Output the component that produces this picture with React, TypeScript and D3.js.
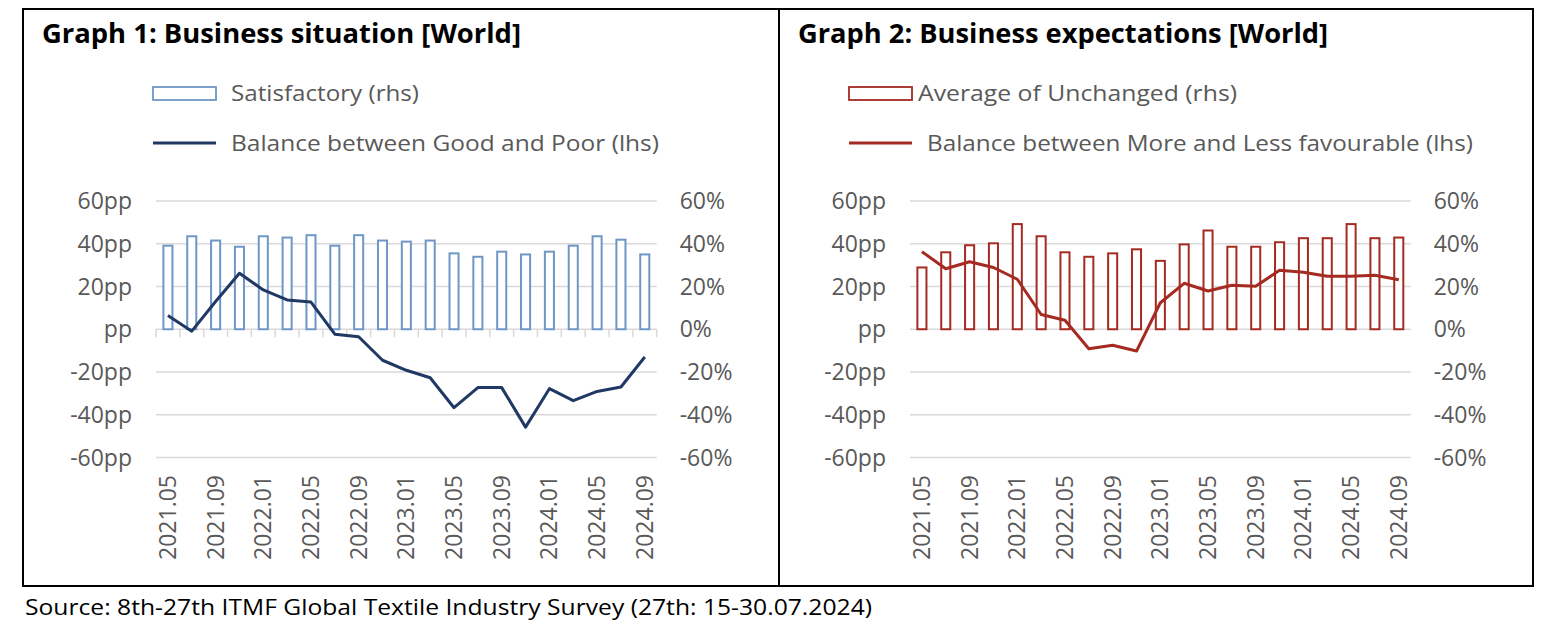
import React from 'react';
import * as d3 from 'd3';

const categories = ['2021.05','2021.07','2021.09','2021.11','2022.01','2022.03','2022.05','2022.07','2022.09','2022.11','2023.01','2023.03','2023.05','2023.07','2023.09','2023.11','2024.01','2024.03','2024.05','2024.07','2024.09'];
const satisfactory = [39.1,43.5,41.5,38.6,43.5,42.9,44.0,39.1,44.0,41.5,41.0,41.5,35.5,33.9,36.3,35.0,36.3,39.1,43.5,41.9,35.0];
const balanceGoodPoor = [6.4,-0.9,13,26.2,18.4,13.7,12.7,-2.3,-3.5,-14.5,-19.2,-22.7,-36.7,-27.3,-27.3,-45.8,-27.8,-33.4,-29.1,-27.0,-13.0];
const unchanged = [28.9,36.0,39.3,40.2,49.2,43.5,36.0,33.9,35.5,37.4,32.0,39.7,46.2,38.6,38.6,40.7,42.6,42.6,49.2,42.6,42.9];
const balanceMoreLess = [36.3,28.3,31.6,28.9,23.4,6.9,4.2,-9.1,-7.5,-10.2,12.4,21.5,17.9,20.6,20.1,27.6,26.7,24.8,24.8,25.3,23.2];
const yTicks = [-60,-40,-20,0,20,40,60];
const leftTickLabels = ['-60pp','-40pp','-20pp','pp','20pp','40pp','60pp'];
const rightTickLabels = ['-60%','-40%','-20%','0%','20%','40%','60%'];

const FONT = '"Open Sans", "Noto Sans", sans-serif';
const GRAY = '#595959';

type PanelProps = {
  x0: number; x1: number; title: string; titleLen: number; titleX: number;
  barLabel: string; barLabelX: number; barLabelLen: number;
  lineLabel: string; lineLabelX: number; lineLabelLen: number;
  legendX: number;
  bars: number[]; line: number[]; barColor: string; lineColor: string;
  ticks: boolean;
};

function Panel(p: PanelProps) {
  const x = d3.scaleBand<string>().domain(categories).range([p.x0, p.x1]).paddingInner(0.62).paddingOuter(0.31);
  const y = d3.scaleLinear().domain([-60, 60]).range([457.5, 201]);
  const step = x.step();
  const cx = (c: string) => (x(c) as number) + x.bandwidth() / 2;
  const lineGen = d3.line<number>().x((_, i) => cx(categories[i])).y(d => y(d));
  return (
    <g>
      <text x={p.titleX} y={43} fontFamily={FONT} fontWeight="bold" fontSize={26} fill="#000" textLength={p.titleLen} lengthAdjust="spacingAndGlyphs">{p.title}</text>
      <rect x={p.legendX} y={87} width={63} height={13} fill="#fff" stroke={p.barColor} strokeWidth={1.8} />
      <text x={p.barLabelX} y={101} fontFamily={FONT} fontSize={22} fill={GRAY} textLength={p.barLabelLen} lengthAdjust="spacingAndGlyphs">{p.barLabel}</text>
      <line x1={p.legendX} x2={p.legendX + 63} y1={143} y2={143} stroke={p.lineColor} strokeWidth={3} />
      <text x={p.lineLabelX} y={151} fontFamily={FONT} fontSize={22} fill={GRAY} textLength={p.lineLabelLen} lengthAdjust="spacingAndGlyphs">{p.lineLabel}</text>
      {yTicks.map(t => (
        <line key={'g' + t} x1={p.x0} x2={p.x1} y1={y(t)} y2={y(t)} stroke="#d9d9d9" strokeWidth={1.5} />
      ))}
      {p.ticks && d3.range(categories.length + 1).map(i => (
        <line key={'tk' + i} x1={p.x0 + i * step} x2={p.x0 + i * step} y1={y(0)} y2={y(0) + 8} stroke="#d9d9d9" strokeWidth={1.5} />
      ))}
      {yTicks.map((t, i) => (
        <text key={'l' + t} x={p.x0 - 24} y={y(t)} dy="0.35em" textAnchor="end" fontFamily={FONT} fontSize={23} fill={GRAY}>{leftTickLabels[i]}</text>
      ))}
      {yTicks.map((t, i) => (
        <text key={'r' + t} x={p.x1 + 23} y={y(t)} dy="0.35em" textAnchor="start" fontFamily={FONT} fontSize={23} fill={GRAY}>{rightTickLabels[i]}</text>
      ))}
      {categories.map((c, i) => (
        <rect key={'b' + c} x={x(c)} y={y(p.bars[i])} width={x.bandwidth()} height={y(0) - y(p.bars[i])} fill="#fff" stroke={p.barColor} strokeWidth={2} />
      ))}
      <path d={lineGen(p.line) || ''} fill="none" stroke={p.lineColor} strokeWidth={3} strokeLinejoin="round" />
      {categories.map((c, i) => i % 2 === 0 ? (
        <text key={'x' + c} transform={`translate(${cx(c)},475) rotate(-90)`} dy="0.35em" textAnchor="end" fontFamily={FONT} fontSize={23} fill={GRAY}>{c}</text>
      ) : null)}
    </g>
  );
}

export default function App() {
  return (
    <svg width={1560} height={630} style={{ position: 'absolute', left: 0, top: 0, background: '#fff' }}>
      <rect x={0} y={0} width={1560} height={630} fill="#fff" />
      <rect x={23} y={9} width={1510} height={577} fill="none" stroke="#000" strokeWidth={2} />
      <line x1={779} x2={779} y1={9} y2={586} stroke="#000" strokeWidth={2} />
      <Panel x0={156} x1={656.7} title="Graph 1: Business situation [World]" titleX={42} titleLen={479}
        barLabel="Satisfactory (rhs)" barLabelX={231} barLabelLen={188}
        lineLabel="Balance between Good and Poor (lhs)" lineLabelX={231} lineLabelLen={428}
        legendX={153} bars={satisfactory} line={balanceGoodPoor} barColor="#6f97c6" lineColor="#203864" ticks={true} />
      <Panel x0={910} x1={1410.7} title="Graph 2: Business expectations [World]" titleX={798} titleLen={530}
        barLabel="Average of Unchanged (rhs)" barLabelX={918} barLabelLen={319}
        lineLabel="Balance between More and Less favourable (lhs)" lineLabelX={927} lineLabelLen={546}
        legendX={849} bars={unchanged} line={balanceMoreLess} barColor="#a52a22" lineColor="#a52a22" ticks={false} />
      <text x={25} y={615} fontFamily={FONT} fontSize={22} fill="#000" textLength={847} lengthAdjust="spacingAndGlyphs">Source: 8th-27th ITMF Global Textile Industry Survey (27th: 15-30.07.2024)</text>
    </svg>
  );
}
